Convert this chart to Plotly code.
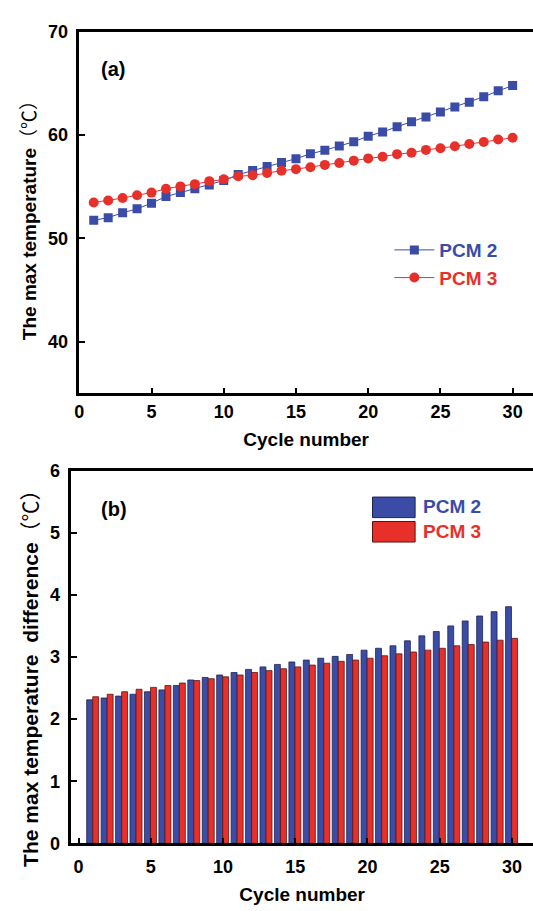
import plotly.graph_objects as go

cycles = list(range(1, 31))

# (a) max temperature (°C)
pcm2_temp = [51.74, 52.0, 52.47, 52.85, 53.4, 54.04, 54.42, 54.8, 55.15, 55.59,
             56.16, 56.57, 56.95, 57.32, 57.7, 58.17, 58.52, 58.93, 59.34, 59.88,
             60.29, 60.79, 61.27, 61.74, 62.21, 62.69, 63.16, 63.69, 64.26, 64.77]
pcm3_temp = [53.47, 53.66, 53.89, 54.17, 54.42, 54.8, 55.02, 55.24, 55.53, 55.71,
             56.0, 56.09, 56.31, 56.54, 56.69, 56.88, 57.1, 57.29, 57.51, 57.73,
             57.89, 58.14, 58.27, 58.55, 58.71, 58.9, 59.12, 59.31, 59.56, 59.72]

# (b) max temperature difference (°C)
pcm2_diff = [2.31, 2.34, 2.37, 2.40, 2.44, 2.47, 2.54, 2.63, 2.67, 2.71,
             2.75, 2.80, 2.84, 2.88, 2.92, 2.95, 2.98, 3.01, 3.04, 3.11,
             3.14, 3.18, 3.26, 3.34, 3.41, 3.50, 3.58, 3.66, 3.73, 3.81]
pcm3_diff = [2.36, 2.40, 2.44, 2.48, 2.51, 2.54, 2.58, 2.62, 2.65, 2.68,
             2.71, 2.75, 2.78, 2.81, 2.84, 2.87, 2.90, 2.93, 2.95, 2.98,
             3.02, 3.05, 3.08, 3.11, 3.14, 3.18, 3.20, 3.24, 3.27, 3.30]

series_names = ["PCM 2", "PCM 3"]
x_ticks = [0, 5, 10, 15, 20, 25, 30]
ya_ticks = [40, 50, 60, 70]
yb_ticks = [0, 1, 2, 3, 4, 5, 6]

W, H = 533, 911
BLUE = "#3a4ca6"
RED = "#e8302b"
FONT = "Liberation Sans, Arial, Noto Sans CJK SC"


def px(x):
    return x / W


def py(y):
    return 1 - y / H


def bold(vals):
    return [f"<b>{v}</b>" for v in vals]


fig = go.Figure()

fig.add_trace(go.Scatter(
    x=cycles, y=pcm2_temp, mode="lines+markers",
    name=f"<span style='color:{BLUE}'><b>{series_names[0]}</b></span>",
    line=dict(color=BLUE, width=1),
    marker=dict(symbol="square", size=9, color=BLUE),
    xaxis="x", yaxis="y", legend="legend"))
fig.add_trace(go.Scatter(
    x=cycles, y=pcm3_temp, mode="lines+markers",
    name=f"<span style='color:{RED}'><b>{series_names[1]}</b></span>",
    line=dict(color=RED, width=1),
    marker=dict(symbol="circle", size=10, color=RED),
    xaxis="x", yaxis="y", legend="legend"))

fig.add_trace(go.Bar(
    x=cycles, y=pcm2_diff, name=series_names[0], showlegend=False,
    marker=dict(color=BLUE, line=dict(color="#1d2450", width=0.8)),
    width=0.41, offset=-0.44, xaxis="x2", yaxis="y2"))
fig.add_trace(go.Bar(
    x=cycles, y=pcm3_diff, name=series_names[1], showlegend=False,
    marker=dict(color=RED, line=dict(color="#5a1410", width=0.8)),
    width=0.41, offset=-0.02, xaxis="x2", yaxis="y2"))

axis_common = dict(
    showline=True, linecolor="black", linewidth=2.5,
    ticks="inside", ticklen=6, tickwidth=2, tickcolor="black",
    showgrid=False, zeroline=False,
    tickfont=dict(family=FONT, size=18, color="black"),
)

fig.update_layout(
    width=W, height=H,
    margin=dict(l=0, r=0, t=0, b=0),
    paper_bgcolor="white", plot_bgcolor="white",
    barmode="overlay",
    font=dict(family=FONT, color="black"),
    xaxis=dict(axis_common, domain=[px(75), 1], range=[0, 31.41],
               tickvals=x_ticks, ticktext=bold(x_ticks), mirror=True, anchor="y",
               ticklabelstandoff=0,
               title=dict(text="<b>Cycle number</b>", standoff=12,
                          font=dict(family=FONT, size=19, color="black"))),
    yaxis=dict(axis_common, domain=[py(392), py(22)], range=[35, 70],
               tickvals=ya_ticks, ticktext=bold(ya_ticks), anchor="x",
               ticklabelstandoff=5),
    xaxis2=dict(axis_common, domain=[px(67), 1], range=[-0.5, 31.46],
                tickvals=x_ticks, ticktext=bold(x_ticks), mirror=True, anchor="y2",
                ticklabelstandoff=5,
                title=dict(text="<b>Cycle number</b>", standoff=13,
                           font=dict(family=FONT, size=19, color="black"))),
    yaxis2=dict(axis_common, domain=[py(852), py(471)], range=[0, 6],
                tickvals=yb_ticks, ticktext=bold(yb_ticks), anchor="x2",
                ticklabelstandoff=5),
    legend=dict(x=px(388), y=py(226), xanchor="left", yanchor="top",
                bgcolor="rgba(0,0,0,0)", borderwidth=0,
                font=dict(family=FONT, size=19), tracegroupgap=0,
                itemwidth=40),
)

annotations = [
    dict(text="<b>(a)</b>", x=px(95), y=py(60), xanchor="left", yanchor="middle",
         font=dict(family=FONT, size=20, color="black")),
    dict(text="<b>(b)</b>", x=px(95), y=py(510), xanchor="left", yanchor="middle",
         font=dict(family=FONT, size=20, color="black")),
    dict(text="<b>The max temperature</b>（℃）", x=px(25), y=py(210), textangle=-90,
         xanchor="center", yanchor="middle",
         font=dict(family=FONT, size=19, color="black")),
    dict(text="<b>The max temperature&nbsp; difference</b>（℃）",
         x=px(25), y=py(678), textangle=-90, xanchor="center", yanchor="middle",
         font=dict(family=FONT, size=21, color="black")),
    dict(text=f"<b>{series_names[0]}</b>", x=px(420), y=py(508), xanchor="left",
         yanchor="middle", font=dict(family=FONT, size=19, color=BLUE)),
    dict(text=f"<b>{series_names[1]}</b>", x=px(420), y=py(533), xanchor="left",
         yanchor="middle", font=dict(family=FONT, size=19, color=RED)),
]
for a in annotations:
    a.update(xref="paper", yref="paper", showarrow=False)
fig.update_layout(annotations=annotations)

fig.update_layout(shapes=[
    dict(type="rect", xref="paper", yref="paper", x0=px(371), x1=px(414),
         y0=py(519), y1=py(498), fillcolor=BLUE, line=dict(color="#1d2450", width=1)),
    dict(type="rect", xref="paper", yref="paper", x0=px(371), x1=px(414),
         y0=py(544), y1=py(523), fillcolor=RED, line=dict(color="#5a1410", width=1)),
])

fig.write_html("out.html")
